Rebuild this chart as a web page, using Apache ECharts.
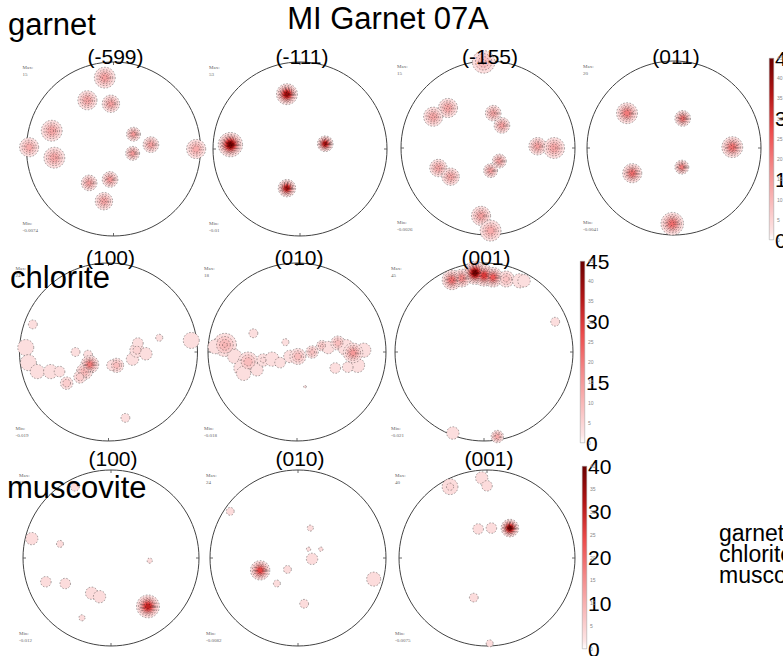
<!DOCTYPE html>
<html>
<head>
<meta charset="utf-8">
<script src="https://cdn.jsdelivr.net/npm/echarts@6/dist/echarts.min.js"></script>
<style>
  html, body { margin: 0; padding: 0; background: #ffffff; }
  #chart { width: 783px; height: 656px; }
</style>
</head>
<body>
<div id="chart"></div>
<script>
// ---- Pole-figure density maxima: [x, y, spread, peak density (m.u.d.)]
// x, y are positions inside the unit stereonet, spread is the width of the
// outermost contour as a fraction of the net radius.
const garnet599 = [
  [-0.10, 0.82, 0.12, 14], [-0.30, 0.56, 0.11, 13], [-0.03, 0.52, 0.10, 14],
  [-0.71, 0.21, 0.12, 13], [-0.68, -0.10, 0.12, 13], [-0.97, 0.02, 0.11, 12],
  [0.95, 0.00, 0.11, 12], [0.23, 0.17, 0.08, 15], [0.43, 0.05, 0.09, 14],
  [0.22, -0.05, 0.08, 15], [-0.28, -0.39, 0.09, 14], [-0.04, -0.35, 0.09, 15],
  [-0.11, -0.60, 0.10, 13]
];
const garnet111 = [
  [-0.15, 0.63, 0.12, 40], [-0.80, 0.05, 0.14, 45], [0.29, 0.06, 0.09, 38],
  [-0.15, -0.45, 0.10, 38]
];
const garnet155 = [
  [-0.05, 0.99, 0.13, 10], [-0.46, 0.46, 0.11, 13], [-0.63, 0.36, 0.11, 13],
  [0.06, 0.40, 0.09, 13], [0.16, 0.26, 0.09, 14], [0.57, 0.02, 0.10, 14],
  [0.76, 0.00, 0.12, 13], [-0.57, -0.23, 0.10, 13], [-0.43, -0.33, 0.10, 13],
  [0.13, -0.15, 0.08, 14], [0.03, -0.26, 0.08, 14], [-0.08, -0.78, 0.11, 14],
  [0.03, -0.95, 0.12, 12]
];
const garnet011 = [
  [-0.54, 0.40, 0.12, 20], [0.10, 0.34, 0.09, 22], [0.67, 0.01, 0.12, 22],
  [-0.48, -0.29, 0.11, 22], [0.09, -0.22, 0.08, 20], [-0.02, -0.87, 0.13, 22]
];
const chlorite100 = [
  [-0.85, 0.31, 0.05, 3], [-0.93, 0.05, 0.09, 3], [-0.90, -0.12, 0.09, 3],
  [-0.80, -0.22, 0.08, 3], [-0.65, -0.22, 0.08, 3], [-0.55, -0.22, 0.06, 3],
  [-0.37, 0.00, 0.05, 3], [-0.23, -0.03, 0.05, 3],
  [-0.21, -0.14, 0.10, 20], [-0.27, -0.22, 0.09, 10], [-0.32, -0.28, 0.07, 6],
  [-0.47, -0.35, 0.07, 6], [0.09, -0.15, 0.08, 9], [0.04, -0.15, 0.06, 3],
  [0.27, -0.08, 0.07, 3], [0.32, 0.02, 0.08, 5], [0.42, -0.02, 0.07, 3],
  [0.33, 0.10, 0.06, 3], [0.57, 0.16, 0.04, 3], [0.93, 0.13, 0.09, 3],
  [0.19, -0.74, 0.05, 3]
];
const chlorite010 = [
  [-0.81, 0.08, 0.13, 10], [-0.92, 0.06, 0.08, 3], [-0.70, -0.05, 0.08, 3],
  [-0.49, 0.21, 0.05, 3], [-0.55, -0.11, 0.11, 9], [-0.62, -0.18, 0.09, 3],
  [-0.60, -0.24, 0.08, 3], [-0.45, -0.20, 0.07, 3], [-0.38, -0.09, 0.07, 4],
  [-0.28, -0.08, 0.08, 3], [-0.13, 0.11, 0.04, 3], [-0.19, -0.12, 0.06, 3],
  [-0.08, -0.05, 0.07, 3], [0.01, -0.05, 0.09, 9], [0.17, 0.00, 0.07, 8],
  [0.28, 0.07, 0.06, 7], [0.35, 0.05, 0.07, 3], [0.46, 0.10, 0.08, 9],
  [0.55, 0.05, 0.09, 3], [0.75, 0.02, 0.08, 3], [0.68, -0.15, 0.08, 3],
  [0.63, -0.01, 0.11, 15], [0.57, -0.17, 0.06, 3], [0.43, -0.18, 0.06, 3],
  [0.09, -0.39, 0.015, 3]
];
const chlorite001 = [
  [-0.10, 0.89, 0.13, 45], [-0.36, 0.81, 0.11, 22], [-0.25, 0.83, 0.10, 18],
  [0.00, 0.86, 0.12, 30], [0.10, 0.84, 0.11, 25], [0.25, 0.82, 0.09, 8],
  [0.40, 0.80, 0.08, 3], [0.45, 0.80, 0.07, 3], [0.80, 0.34, 0.05, 3],
  [-0.35, -0.91, 0.07, 3], [0.15, -0.95, 0.07, 12]
];
const muscovite100 = [
  [-0.41, 0.81, 0.05, 3], [-0.90, 0.22, 0.07, 3], [-0.58, 0.16, 0.04, 3],
  [-0.74, -0.27, 0.06, 3], [-0.52, -0.29, 0.06, 3], [-0.22, -0.40, 0.07, 3],
  [-0.13, -0.44, 0.07, 3], [-0.33, -0.68, 0.035, 3], [0.44, -0.03, 0.03, 3],
  [0.42, -0.55, 0.13, 30]
];
const muscovite010 = [
  [-0.77, 0.53, 0.045, 3], [0.14, 0.34, 0.035, 3], [0.12, 0.10, 0.025, 3],
  [0.26, 0.10, 0.025, 3], [0.16, -0.01, 0.065, 3], [-0.12, -0.13, 0.045, 3],
  [-0.24, -0.29, 0.04, 3], [-0.43, -0.14, 0.11, 25], [0.86, -0.24, 0.08, 3],
  [0.07, -0.52, 0.05, 3]
];
const muscovite001 = [
  [-0.42, 0.81, 0.09, 4], [-0.06, 0.91, 0.07, 3], [0.00, 0.82, 0.06, 3],
  [-0.10, 0.33, 0.06, 3], [0.05, 0.34, 0.06, 3], [0.26, 0.34, 0.10, 40],
  [-0.15, -0.45, 0.05, 3], [0.03, -0.97, 0.04, 3]
];

// ---- Labels
const chartTitle = 'MI Garnet 07A';
const phases = ['garnet', 'chlorite', 'muscovite'];
const garnetPlanes = ['(-599)', '(-111)', '(-155)', '(011)'];
const chloritePlanes = ['(100)', '(010)', '(001)'];
const muscovitePlanes = ['(100)', '(010)', '(001)'];
const garnetMax = ['15', '53', '15', '20'];
const garnetMin = ['-0.0074', '-0.01', '-0.0026', '-0.0041'];
const chloriteMax = ['24', '18', '45'];
const chloriteMin = ['-0.019', '-0.018', '-0.021'];
const muscoviteMax = ['31', '24', '40'];
const muscoviteMin = ['-0.012', '-0.0082', '-0.0075'];

// ---- Colour bars
const garnetTicks = [0, 15, 30, 45];
const chloriteTicks = [0, 15, 30, 45];
const muscoviteTicks = [0, 10, 20, 30, 40];

// contour levels used for every net (m.u.d.)
const contourLevels = [1, 3, 6, 9, 12, 16, 20, 25, 30, 36, 42];

// ---- colour map: white -> pink -> red -> dark red
const cmapStops = [[0, '#ffffff'], [0.04, '#fde5e5'], [0.2, '#f9bcbc'], [0.4, '#f38888'],
                   [0.6, '#ec4b4b'], [0.8, '#b31616'], [1, '#6b0000']];
function hexToRgb(h) { return [1, 3, 5].map(i => parseInt(h.slice(i, i + 2), 16)); }
function cmap(f) {
  f = Math.max(0, Math.min(1, f));
  for (let i = 1; i < cmapStops.length; i++) {
    if (f <= cmapStops[i][0]) {
      const a = cmapStops[i - 1], b = cmapStops[i];
      const t = (f - a[0]) / (b[0] - a[0]);
      const ca = hexToRgb(a[1]), cb = hexToRgb(b[1]);
      const c = ca.map((v, k) => Math.round(v + (cb[k] - v) * t));
      return 'rgb(' + c.join(',') + ')';
    }
  }
  return cmapStops[cmapStops.length - 1][1];
}

// ---- layout of the nets
const FONT = 'Liberation Sans, Arial, sans-serif';
const nets = [
  { blobs: garnet599, label: garnetPlanes[0], mx: garnetMax[0], mn: garnetMin[0], cx: 113.5, cy: 149, r: 87, vmax: 45 },
  { blobs: garnet111, label: garnetPlanes[1], mx: garnetMax[1], mn: garnetMin[1], cx: 300, cy: 149, r: 87, vmax: 45 },
  { blobs: garnet155, label: garnetPlanes[2], mx: garnetMax[2], mn: garnetMin[2], cx: 488, cy: 148, r: 87, vmax: 45 },
  { blobs: garnet011, label: garnetPlanes[3], mx: garnetMax[3], mn: garnetMin[3], cx: 674, cy: 148, r: 87, vmax: 45 },
  { blobs: chlorite100, label: chloritePlanes[0], mx: chloriteMax[0], mn: chloriteMin[0], cx: 108.5, cy: 352, r: 89, vmax: 45 },
  { blobs: chlorite010, label: chloritePlanes[1], mx: chloriteMax[1], mn: chloriteMin[1], cx: 297, cy: 352, r: 89, vmax: 45 },
  { blobs: chlorite001, label: chloritePlanes[2], mx: chloriteMax[2], mn: chloriteMin[2], cx: 484, cy: 352, r: 89, vmax: 45 },
  { blobs: muscovite100, label: muscovitePlanes[0], mx: muscoviteMax[0], mn: muscoviteMin[0], cx: 111, cy: 558, r: 88, vmax: 40 },
  { blobs: muscovite010, label: muscovitePlanes[1], mx: muscoviteMax[1], mn: muscoviteMin[1], cx: 298, cy: 558, r: 88, vmax: 40 },
  { blobs: muscovite001, label: muscovitePlanes[2], mx: muscoviteMax[2], mn: muscoviteMin[2], cx: 487, cy: 558, r: 88, vmax: 40 }
];
const labelTop = [46, 46, 46, 46, 247, 247, 247, 448, 448, 448];

const bars = [
  { ticks: garnetTicks, left: 769, top: 58, height: 182, vmax: 45, step: 15 },
  { ticks: chloriteTicks, left: 580, top: 261, height: 182, vmax: 45, step: 15 },
  { ticks: muscoviteTicks, left: 582, top: 466, height: 183, vmax: 40, step: 10 }
];

const polar = [], angleAxis = [], radiusAxis = [], series = [];
const grid = [], xAxis = [], yAxis = [];
const title = [];

title.push({ text: chartTitle, left: 388, top: 3, textAlign: 'center', padding: 0,
  textStyle: { fontSize: 31, fontWeight: 'normal', color: '#000', fontFamily: FONT } });
[[phases[0], 8, 9], [phases[1], 10, 262], [phases[2], 7, 472]].forEach(p => {
  title.push({ text: p[0], left: p[1], top: p[2], padding: 0, z: 10,
    textStyle: { fontSize: 31, fontWeight: 'normal', color: '#000', fontFamily: FONT } });
});
title.push({ text: phases.join('\n'), left: 719, top: 522, padding: 0,
  textStyle: { fontSize: 23, lineHeight: 21, fontWeight: 'normal', color: '#000', fontFamily: FONT } });

nets.forEach((n, i) => {
  polar.push({ center: [n.cx, n.cy], radius: n.r });
  angleAxis.push({
    polarIndex: i, type: 'value', min: 0, max: 360, interval: 90,
    startAngle: 0, clockwise: false,
    axisLine: { show: true, lineStyle: { color: '#444', width: 1 } },
    axisTick: { show: true, inside: true, length: 3, lineStyle: { color: '#444', width: 0.8 } },
    axisLabel: { show: false }, splitLine: { show: false }
  });
  radiusAxis.push({
    polarIndex: i, type: 'value', min: 0, max: 1,
    axisLine: { show: false }, axisTick: { show: false },
    axisLabel: { show: false }, splitLine: { show: false }
  });

  // cartesian -> polar [radius, angle]
  const pts = n.blobs.map(b => [Math.hypot(b[0], b[1]),
    (Math.atan2(b[1], b[0]) * 180 / Math.PI + 360) % 360, b[2], b[3]]);
  const t0 = contourLevels[0];
  contourLevels.forEach((t, k) => {
    const data = pts.filter(d => d[3] > t);
    if (!data.length) return;
    const upper = k + 1 < contourLevels.length ? contourLevels[k + 1] : n.vmax;
    series.push({
      type: 'scatter', coordinateSystem: 'polar', polarIndex: i,
      data: data, symbol: 'circle', silent: true, animation: false, z: 2,
      symbolSize: v => 2 * n.r * v[2] * Math.sqrt(Math.log(v[3] / t) / Math.log(v[3] / t0)),
      itemStyle: {
        color: p => cmap(Math.min(upper, p.value[3]) / n.vmax),
        borderColor: 'rgba(0,0,0,0.75)', borderWidth: 0.45, borderType: [1.6, 1.6], opacity: 1
      }
    });
  });

  title.push({ text: n.label, left: n.cx + 2, top: labelTop[i], textAlign: 'center', padding: 0,
    textStyle: { fontSize: 21, fontWeight: 'normal', color: '#000', fontFamily: FONT } });
  title.push({ text: 'Max:\n' + n.mx, left: n.cx - n.r - 4, top: n.cy - n.r + 2, padding: 0,
    textStyle: { fontSize: 5, lineHeight: 7, fontWeight: 'normal', color: '#666', fontFamily: 'Liberation Serif, serif' } });
  title.push({ text: 'Min:\n' + n.mn, left: n.cx - n.r - 4, top: n.cy + n.r - 16, padding: 0,
    textStyle: { fontSize: 5, lineHeight: 7, fontWeight: 'normal', color: '#666', fontFamily: 'Liberation Serif, serif' } });
});

// colour bars drawn as a single gradient bar on a value axis
bars.forEach((b, j) => {
  grid.push({ left: b.left, top: b.top, width: 5, height: b.height,
    containLabel: false, outerBoundsMode: 'none' });
  xAxis.push({ gridIndex: j, type: 'category', data: [''], show: false });
  yAxis.push({
    gridIndex: j, type: 'value', min: 0, max: b.vmax, interval: b.step, position: 'right',
    axisLine: { show: false }, axisTick: { show: false }, splitLine: { show: false },
    axisLabel: { fontSize: 21, color: '#000', margin: 1, fontFamily: FONT }
  });
  yAxis.push({
    gridIndex: j, type: 'value', min: 0, max: b.vmax, interval: 5, position: 'right',
    axisLine: { show: false }, axisTick: { show: false }, splitLine: { show: false },
    axisLabel: { fontSize: 5, color: '#888', margin: 3, fontFamily: FONT }
  });
  const stops = cmapStops.map(s => ({ offset: s[0], color: s[1] }));
  series.push({
    type: 'bar', xAxisIndex: j, yAxisIndex: 2 * j, data: [b.vmax], barWidth: '100%',
    silent: true, animation: false,
    itemStyle: {
      color: { type: 'linear', x: 0, y: 1, x2: 0, y2: 0, colorStops: stops },
      borderColor: '#999', borderWidth: 0.5
    }
  });
});

const chart = echarts.init(document.getElementById('chart'), null, { renderer: 'svg' });
chart.setOption({
  backgroundColor: '#ffffff',
  animation: false,
  title, polar, angleAxis, radiusAxis, grid, xAxis, yAxis, series
});
</script>
</body>
</html>
